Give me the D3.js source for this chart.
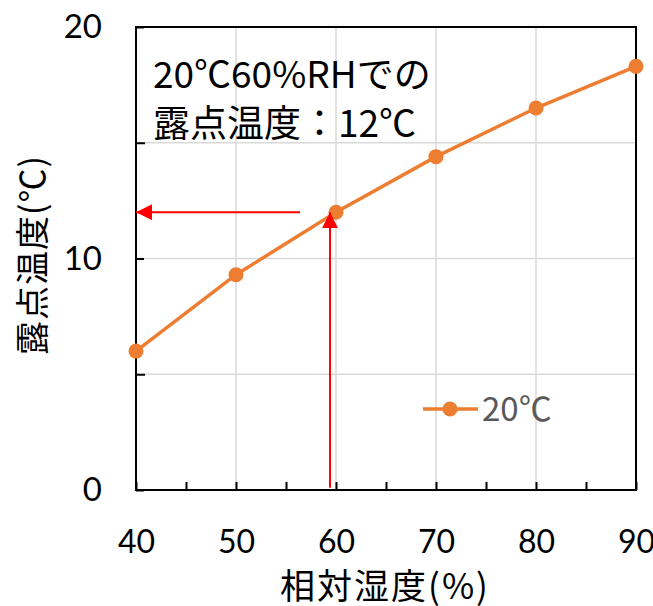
<!DOCTYPE html>
<html>
<head>
<meta charset="utf-8">
<script src="https://cdn.jsdelivr.net/npm/d3@7"></script>
<style>
  html, body { margin: 0; padding: 0; background: #fff; }
  svg { display: block; }
</style>
</head>
<body>
<svg id="chart" width="653" height="606"></svg>
<script>
// Relative humidity (%) and the dew point (°C) of air at 20°C
const humidity = [40, 50, 60, 70, 80, 90];
const dewPoint = [6.0, 9.3, 12.0, 14.4, 16.5, 18.3];
const seriesName = "20℃";

const xTicks = [40, 50, 60, 70, 80, 90];
const xMinorTicks = [45, 55, 65, 75, 85];
const yTicks = [0, 10, 20];
const yMinorTicks = [5, 15];
const yGrid = [5, 10, 15];

// Reading guide: from 60%RH up to the curve, then across to the axis
const guideUp = { x: 59.4, from: 0.1, to: 12.0 };
const guideAcross = { y: 12.0, from: 56.4, to: 40 };

const noteLines = ["20℃60%RHでの", "露点温度：12℃"];
const xTitle = "相対湿度(%)";
const yTitle = "露点温度(℃)";

const svg = d3.select("#chart");
const plotL = 136, plotR = 636, plotT = 27, plotB = 490;

const x = d3.scaleLinear().domain([40, 90]).range([plotL, plotR]);
const y = d3.scaleLinear().domain([0, 20]).range([plotB, plotT]);

const numFont = "Lato, 'Open Sans', sans-serif";
const jpFont = "'Noto Sans CJK JP', sans-serif";

// Gridlines
svg.append("g").selectAll("line").data(xTicks.slice(1, -1)).join("line")
  .attr("x1", d => x(d)).attr("x2", d => x(d))
  .attr("y1", plotT).attr("y2", plotB)
  .attr("stroke", "#d9d9d9").attr("stroke-width", 1.5);
svg.append("g").selectAll("line").data(yGrid).join("line")
  .attr("x1", plotL).attr("x2", plotR)
  .attr("y1", d => y(d)).attr("y2", d => y(d))
  .attr("stroke", "#d9d9d9").attr("stroke-width", 1.5);

// Frame
svg.append("rect")
  .attr("x", plotL).attr("y", plotT)
  .attr("width", plotR - plotL).attr("height", plotB - plotT)
  .attr("fill", "none").attr("stroke", "#000").attr("stroke-width", 2);

// Axes with inward ticks
const xAxis = d3.axisBottom(x).tickValues(xTicks).tickSize(-8).tickPadding(40)
  .tickFormat(d3.format("d"));
const gx = svg.append("g").attr("transform", `translate(0,${plotB})`).call(xAxis);
gx.select(".domain").remove();
gx.selectAll(".tick line").attr("stroke", "#000").attr("stroke-width", 2);
gx.selectAll(".tick text").attr("font-family", numFont).attr("font-size", 32)
  .attr("fill", "#000");
svg.append("g").attr("transform", `translate(0,${plotB})`)
  .call(d3.axisBottom(x).tickValues(xMinorTicks).tickSize(-8).tickFormat(""))
  .call(g => g.select(".domain").remove())
  .selectAll(".tick line").attr("stroke", "#000").attr("stroke-width", 2);

const yAxis = d3.axisLeft(y).tickValues(yTicks).tickSize(-8).tickPadding(34)
  .tickFormat(d3.format("d"));
const gy = svg.append("g").attr("transform", `translate(${plotL},0)`).call(yAxis);
gy.select(".domain").remove();
gy.selectAll(".tick line").attr("stroke", "#000").attr("stroke-width", 2);
gy.selectAll(".tick text").attr("font-family", numFont).attr("font-size", 33)
  .attr("fill", "#000");
svg.append("g").attr("transform", `translate(${plotL},0)`)
  .call(d3.axisLeft(y).tickValues(yMinorTicks).tickSize(-9).tickFormat(""))
  .call(g => g.select(".domain").remove())
  .selectAll(".tick line").attr("stroke", "#000").attr("stroke-width", 2);

// Series line and markers
const pts = humidity.map((h, i) => [h, dewPoint[i]]);
const orange = "#ed7d31";
svg.append("path").datum(pts)
  .attr("d", d3.line().x(d => x(d[0])).y(d => y(d[1])))
  .attr("fill", "none").attr("stroke", orange).attr("stroke-width", 3.5);
svg.append("g").selectAll("circle").data(pts).join("circle")
  .attr("cx", d => x(d[0])).attr("cy", d => y(d[1])).attr("r", 7.5)
  .attr("fill", orange);

// Red reading guides with arrowheads
const defs = svg.append("defs");
defs.append("marker").attr("id", "head")
  .attr("viewBox", "0 0 10 10").attr("refX", 10).attr("refY", 5)
  .attr("markerWidth", 16).attr("markerHeight", 16)
  .attr("markerUnits", "userSpaceOnUse").attr("orient", "auto")
  .append("path").attr("d", "M0,0 L10,5 L0,10 Z").attr("fill", "#ff0000");

svg.append("line")
  .attr("x1", x(guideUp.x)).attr("x2", x(guideUp.x))
  .attr("y1", y(guideUp.from)).attr("y2", y(guideUp.to))
  .attr("stroke", "#ff0000").attr("stroke-width", 2)
  .attr("marker-end", "url(#head)");
svg.append("line")
  .attr("x1", x(guideAcross.from)).attr("x2", x(guideAcross.to))
  .attr("y1", y(guideAcross.y)).attr("y2", y(guideAcross.y))
  .attr("stroke", "#ff0000").attr("stroke-width", 2)
  .attr("marker-end", "url(#head)");

// Note text
svg.append("g").selectAll("text").data(noteLines).join("text")
  .attr("x", 153).attr("y", (d, i) => 88 + i * 49)
  .attr("font-family", jpFont).attr("font-size", 37).attr("fill", "#000")
  .text(d => d);

// Legend
const lg = svg.append("g");
lg.append("line").attr("x1", 423).attr("x2", 478).attr("y1", 409).attr("y2", 409)
  .attr("stroke", orange).attr("stroke-width", 3.5);
lg.append("circle").attr("cx", 450).attr("cy", 409).attr("r", 7.5).attr("fill", orange);
lg.append("text").attr("x", 482).attr("y", 421)
  .attr("font-family", jpFont).attr("font-size", 33).attr("fill", "#595959")
  .text(seriesName);

// Axis titles
svg.append("text").attr("x", 385).attr("y", 599).attr("text-anchor", "middle")
  .attr("font-family", jpFont).attr("font-size", 35).attr("letter-spacing", 2)
  .attr("fill", "#000")
  .text(xTitle);
svg.append("text").attr("transform", `translate(45,255) rotate(-90)`)
  .attr("text-anchor", "middle")
  .attr("font-family", jpFont).attr("font-size", 34).attr("letter-spacing", 1)
  .attr("fill", "#000")
  .text(yTitle);
</script>
</body>
</html>
